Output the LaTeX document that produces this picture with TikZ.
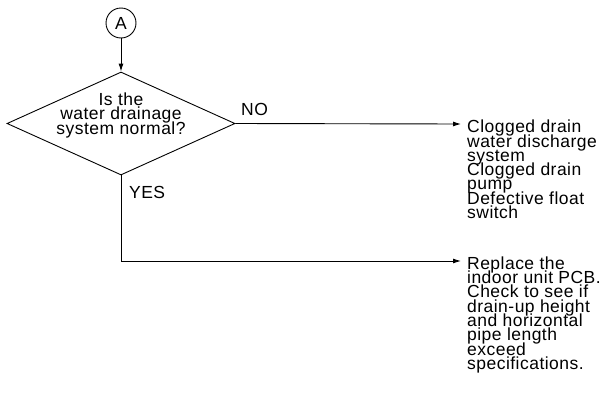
\documentclass[tikz,border=0pt]{standalone}
\usepackage{fontspec}
\setmainfont{Liberation Sans}[LetterSpace=2.7]
\usetikzlibrary{arrows.meta,shapes.geometric}
\newcommand\tightlines{\lineskiplimit=-100pt\relax}
\begin{document}
\begin{tikzpicture}[x=1pt,y=-1pt,
  every node/.style={font=\fontsize{17.5}{14.3}\selectfont\tightlines},
  line/.style={draw=black,line width=0.9pt},
  arrowline/.style={line,-{Latex[length=8pt,width=5pt]}},
  connector/.style={circle,draw,line width=0.9pt,minimum size=30pt,inner sep=0pt},
  decision/.style={diamond,draw,line width=0.9pt,inner sep=0pt,minimum width=228pt,minimum height=103pt},
  plain/.style={inner sep=0pt,align=left,anchor=base west},
  labeltext/.style={inner sep=0pt,anchor=base west}]
  \useasboundingbox (0,0) rectangle (603,399);

  % entry connector and decision (multi-line nodes are placed by their last baseline)
  \node[connector] (A) at (121,23) {A};
  \node[decision] (dec) at (121,123.5) {};
  \node[inner sep=0pt,align=center,anchor=base] (qtext) at (121,134) {Is the\\water drainage\\system normal?};

  % outcomes
  \node[plain] (r1) at (467,218.5) {Clogged drain\\water discharge\\system\\Clogged drain\\pump\\Defective float\\switch};
  \node[plain] (r2) at (467,369.3) {Replace the\\indoor unit PCB.\\Check to see if\\drain-up height\\and horizontal\\pipe length\\exceed\\specifications.};
  \coordinate (e1) at (461,124);
  \coordinate (e2) at (461,261);

  % branch labels
  \node[labeltext] (no) at (241,115) {NO};
  \node[labeltext] (yes) at (129,198) {YES};

  % connectors
  \draw[arrowline] (A) -- (dec.north);
  \draw[arrowline] (dec.east) -- (e1);
  \draw[arrowline] (dec.south) |- (e2);
\end{tikzpicture}
\end{document}
